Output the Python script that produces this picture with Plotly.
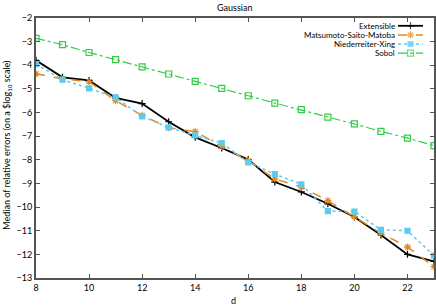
import plotly.graph_objects as go

d = list(range(8, 24))
extensible = [-3.79, -4.51, -4.64, -5.38, -5.62, -6.39, -7.05, -7.50, -7.99, -8.94, -9.36, -9.86, -10.42, -11.18, -12.00, -12.30]
matsumoto = [-4.36, -4.58, -4.69, -5.50, -6.12, -6.64, -6.81, -7.43, -8.04, -8.81, -9.15, -9.73, -10.40, -11.10, -11.69, -12.52]
niederreiter = [-3.95, -4.61, -4.98, -5.36, -6.16, -6.63, -6.97, -7.29, -8.11, -8.60, -9.04, -10.17, -10.19, -10.96, -11.00, -12.05]
sobol = [-2.86, -3.13, -3.46, -3.76, -4.07, -4.37, -4.68, -4.98, -5.29, -5.60, -5.88, -6.19, -6.48, -6.80, -7.08, -7.40]

names = ["Extensible", "Matsumoto-Saito-Matoba", "Niederreiter-Xing", "Sobol"]
colors = ["#000000", "#e08a1e", "#5ccbf0", "#33cc44"]
dashes = ["solid", "dash", "dot", "dashdot"]
symbols = ["cross-thin-open", "asterisk-open", "square", "square-open"]
series = [extensible, matsumoto, niederreiter, sobol]
widths = [1.8, 1.5, 1.5, 1.2]
msizes = [5, 6, 5, 6]

fig = go.Figure()
for n, c, ds, s, ys, w, ms in zip(names, colors, dashes, symbols, series, widths, msizes):
    fig.add_trace(go.Scatter(
        x=d, y=ys, name=n, mode="lines+markers", showlegend=False,
        line=dict(color=c, width=w, dash=ds),
        marker=dict(symbol=s, size=ms, color=c, line=dict(color=c, width=1.2)),
    ))

# custom key (text right-aligned, sample on the right), as in the reference
key_rows = [0.970, 0.935, 0.900, 0.865]
key_x0, key_x1, key_text_x = 0.9095, 0.9724, 0.905
for n, c, ds, s, w, ms, ky in zip(names, colors, dashes, symbols, widths, msizes, key_rows):
    fig.add_trace(go.Scatter(
        x=[key_x0, (key_x0 + key_x1) / 2, key_x1], y=[ky, ky, ky],
        xaxis="x2", yaxis="y2", mode="lines+markers", showlegend=False, hoverinfo="skip",
        line=dict(color=c, width=w, dash=ds),
        marker=dict(symbol=s, size=[0, ms, 0], color=c, line=dict(color=c, width=1.2)),
    ))
    fig.add_annotation(x=key_text_x, y=ky, xref="paper", yref="paper", text=n,
                       showarrow=False, xanchor="right", yanchor="middle",
                       font=dict(size=8, color="#000000"), borderpad=0)

# axis titles and chart title
fig.add_annotation(x=0.495, y=-0.085, xref="paper", yref="paper", text="d",
                   showarrow=False, xanchor="center", yanchor="middle", font=dict(size=9))
fig.add_annotation(x=-0.072, y=0.51, xref="paper", yref="paper",
                   text="Median of relative errors (on a $log<sub>10</sub> scale)",
                   textangle=-90, showarrow=False, xanchor="center", yanchor="middle", font=dict(size=9))
fig.add_annotation(x=0.5, y=1.0, xref="paper", yref="paper", text="Gaussian",
                   showarrow=False, xanchor="center", yanchor="bottom", yshift=3, font=dict(size=9))

font = "Lato, 'Open Sans', sans-serif"
axis_common = dict(
    showgrid=False, zeroline=False, showline=True, linecolor="#555555", linewidth=2,
    mirror="ticks", ticks="inside", ticklen=4, tickcolor="#555555", tickwidth=1,
    tickfont=dict(size=9, color="#000000"), automargin=False,
)
fig.update_layout(
    width=436, height=306,
    margin=dict(l=36, r=2, t=18, b=28),
    paper_bgcolor="white", plot_bgcolor="white",
    font=dict(family=font, size=9, color="#000000"),
    xaxis=dict(range=[8, 23], tick0=8, dtick=2, **axis_common),
    yaxis=dict(range=[-13, -2], tick0=-13, dtick=1, **axis_common),
    xaxis2=dict(overlaying="x", range=[0, 1], visible=False, fixedrange=True),
    yaxis2=dict(overlaying="y", range=[0, 1], visible=False, fixedrange=True),
    showlegend=False,
)
fig.write_html("out.html", config={"displayModeBar": False})

with open("out.html", "r", encoding="utf-8") as f:
    html = f.read()
html = html.replace("<head>", "<head><style>html,body{margin:0;padding:0;overflow:hidden;}</style>", 1)
with open("out.html", "w", encoding="utf-8") as f:
    f.write(html)
